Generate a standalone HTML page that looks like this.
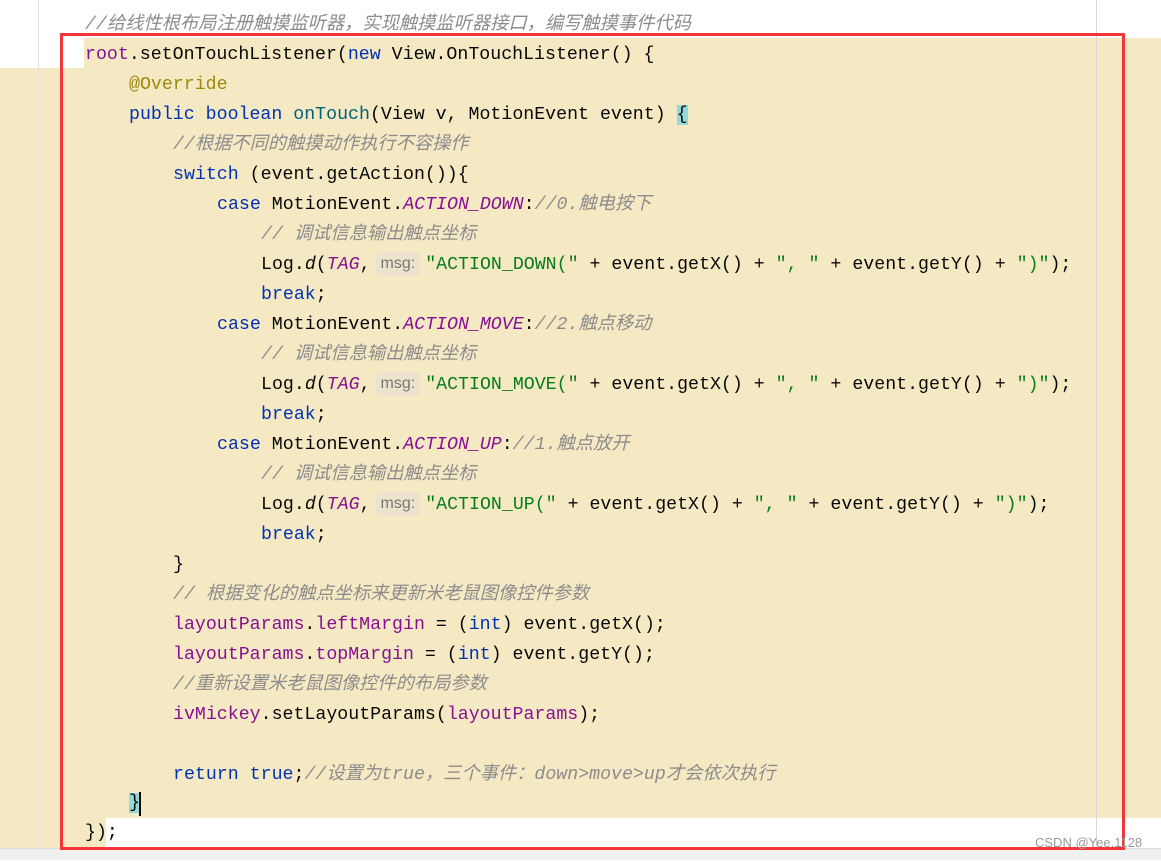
<!DOCTYPE html>
<html><head><meta charset="utf-8"><style>
body{margin:0;width:1161px;height:859px;background:#fff;position:relative;overflow:hidden;font-family:"Liberation Mono","Noto Sans CJK SC",monospace;font-size:18.25px;color:#080808}
.y{position:absolute;background:#f5e9c4}
.l{position:absolute;height:30px;line-height:30px;white-space:pre}
.k{color:#0033b3}.p{color:#871094}.pi{color:#871094;font-style:italic}.c{color:#8c8c8c;font-style:italic;font-family:"Liberation Mono","Noto Sans CJK SC",monospace}
.s{color:#067d17}.a{color:#9e880d}.m{color:#00627a}.i{font-style:italic}
.h{display:inline-block;background:#ebe3cc;color:#777;font-family:"Liberation Sans",sans-serif;font-size:16px;line-height:24px;height:24px;vertical-align:middle;padding:0 5px;border-radius:3px;margin:0 5px 0 5px;position:relative;top:0}
.br{background:#93d9d9}
.t{position:absolute;left:0;top:2px;width:1161px;height:859px}
</style></head><body>
<div class="y" style="left:84px;top:38px;width:1077px;height:30px"></div>
<div class="y" style="left:0;top:68px;width:1161px;height:750px"></div>
<div class="y" style="left:0;top:818px;width:106px;height:30px"></div>
<div style="position:absolute;left:0;top:848px;width:1161px;height:11px;background:#f0f0f0;border-top:1px solid #ddd"></div>
<div style="position:absolute;left:38px;top:0;width:1px;height:848px;background:#e2e2e2"></div>
<div style="position:absolute;left:1096px;top:0;width:1px;height:848px;background:#d8d8d8"></div>
<div class="t">
<div class="l c" style="left:85px;top:8px">//给线性根布局注册触摸监听器，实现触摸监听器接口，编写触摸事件代码</div>
<div class="l" style="left:85px;top:38px"><span class="p">root</span>.setOnTouchListener(<span class="k">new</span> View.OnTouchListener() {</div>
<div class="l a" style="left:129px;top:68px">@Override</div>
<div class="l" style="left:129px;top:98px"><span class="k">public boolean </span><span class="m">onTouch</span>(View v, MotionEvent event) <span class="br">{</span></div>
<div class="l c" style="left:173px;top:128px">//根据不同的触摸动作执行不容操作</div>
<div class="l" style="left:173px;top:158px"><span class="k">switch</span> (event.getAction()){</div>
<div class="l" style="left:217px;top:188px"><span class="k">case</span> MotionEvent.<span class="pi">ACTION_DOWN</span>:<span class="c">//0.触电按下</span></div>
<div class="l c" style="left:261px;top:218px">// 调试信息输出触点坐标</div>
<div class="l" style="left:261px;top:248px">Log.<span class="i">d</span>(<span class="pi">TAG</span>,<span class="h">msg:</span><span class="s">"ACTION_DOWN("</span> + event.getX() + <span class="s">", "</span> + event.getY() + <span class="s">")"</span>);</div>
<div class="l k" style="left:261px;top:278px">break<span style="color:#080808">;</span></div>
<div class="l" style="left:217px;top:308px"><span class="k">case</span> MotionEvent.<span class="pi">ACTION_MOVE</span>:<span class="c">//2.触点移动</span></div>
<div class="l c" style="left:261px;top:338px">// 调试信息输出触点坐标</div>
<div class="l" style="left:261px;top:368px">Log.<span class="i">d</span>(<span class="pi">TAG</span>,<span class="h">msg:</span><span class="s">"ACTION_MOVE("</span> + event.getX() + <span class="s">", "</span> + event.getY() + <span class="s">")"</span>);</div>
<div class="l k" style="left:261px;top:398px">break<span style="color:#080808">;</span></div>
<div class="l" style="left:217px;top:428px"><span class="k">case</span> MotionEvent.<span class="pi">ACTION_UP</span>:<span class="c">//1.触点放开</span></div>
<div class="l c" style="left:261px;top:458px">// 调试信息输出触点坐标</div>
<div class="l" style="left:261px;top:488px">Log.<span class="i">d</span>(<span class="pi">TAG</span>,<span class="h">msg:</span><span class="s">"ACTION_UP("</span> + event.getX() + <span class="s">", "</span> + event.getY() + <span class="s">")"</span>);</div>
<div class="l k" style="left:261px;top:518px">break<span style="color:#080808">;</span></div>
<div class="l" style="left:173px;top:548px">}</div>
<div class="l c" style="left:173px;top:578px">// 根据变化的触点坐标来更新米老鼠图像控件参数</div>
<div class="l" style="left:173px;top:608px"><span class="p">layoutParams</span>.<span class="p">leftMargin</span> = (<span class="k">int</span>) event.getX();</div>
<div class="l" style="left:173px;top:638px"><span class="p">layoutParams</span>.<span class="p">topMargin</span> = (<span class="k">int</span>) event.getY();</div>
<div class="l c" style="left:173px;top:668px">//重新设置米老鼠图像控件的布局参数</div>
<div class="l" style="left:173px;top:698px"><span class="p">ivMickey</span>.setLayoutParams(<span class="p">layoutParams</span>);</div>
<div class="l" style="left:173px;top:758px"><span class="k">return true</span>;<span class="c">//设置为true，三个事件：down&gt;move&gt;up才会依次执行</span></div>
<div class="l" style="left:129px;top:786px"><span class="br">}</span></div>
<div style="position:absolute;left:139px;top:790px;width:2px;height:24px;background:#000"></div>
<div class="l" style="left:85px;top:816px">});</div>
</div>
<div style="position:absolute;left:60px;top:33px;width:1059px;height:811px;border:3px solid #f4363b"></div>
<div style="position:absolute;left:1035px;top:835px;font-family:'Liberation Sans',sans-serif;font-size:13px;color:#999">CSDN @Yee.1128</div>
</body></html>
